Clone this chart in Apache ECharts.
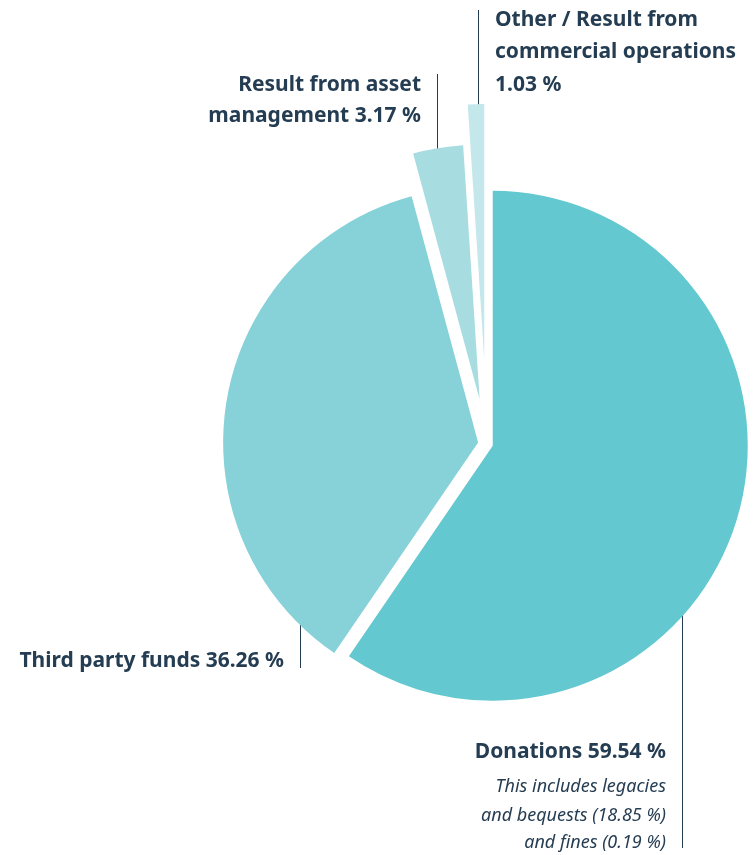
<!DOCTYPE html>
<html><head><meta charset="utf-8">
<script src="https://cdn.jsdelivr.net/npm/echarts@6/dist/echarts.min.js"></script>
<style>html,body{margin:0;padding:0;background:#fff}#c{width:755px;height:855px}</style>
</head><body><div id="c"></div>
<script>
const categories = ['Donations', 'Third party funds', 'Result from asset management', 'Other / Result from commercial operations'];
const values = [59.54, 36.26, 3.17, 1.03];
const colors = ['#63c8cf', '#86d2d8', '#a7dce1', '#c3e7ea'];
const offsets = [6, 9, 45, 85];
const centerTitle = 'Income';
const donationNotes = ['This includes legacies', 'and bequests (18.85 %)', 'and fines (0.19 %)'];

const TXT = '#253d52';
const FONT = '"Noto Sans", sans-serif';
const fmt = v => v.toFixed(2) + ' %';

const series = categories.map((cat, i) => ({
  type: 'pie',
  center: [487, 444],
  radius: [0, 255],
  startAngle: 90,
  clockwise: true,
  selectedMode: 'multiple',
  selectedOffset: offsets[i],
  silent: true,
  animation: false,
  label: { show: false },
  labelLine: { show: false },
  emphasis: { disabled: true },
  data: categories.map((c, j) => ({
    name: c,
    value: values[j],
    selected: j === i,
    itemStyle: { color: j === i ? colors[j] : 'rgba(0,0,0,0)' },
    select: { itemStyle: { color: colors[j] } }
  }))
}));

function t(x, y, text, align, opts) {
  return {
    type: 'text', x: x, y: y,
    style: Object.assign({ text: text, fill: TXT, font: 'bold 21px ' + FONT, align: align, verticalAlign: 'middle' }, opts || {})
  };
}
function ln(x, y1, y2) {
  return { type: 'line', shape: { x1: x, y1: y1, x2: x, y2: y2 }, style: { stroke: TXT, lineWidth: 1 } };
}

const graphics = [
  t(562, 456, centerTitle, 'center', { font: 'bold 27px ' + FONT }),
  // Other
  ln(478.5, 10, 117),
  t(495, 20, 'Other / Result from', 'left'),
  t(495, 52, 'commercial operations', 'left'),
  t(495, 85, fmt(values[3]), 'left'),
  // Asset
  ln(437.5, 74, 160),
  t(421, 85, 'Result from asset', 'right'),
  t(421, 116, 'management ' + fmt(values[2]), 'right'),
  // Third party
  ln(300.5, 607, 668),
  t(284, 661, categories[1] + ' ' + fmt(values[1]), 'right'),
  // Donations
  ln(682.5, 598, 848),
  t(666, 752, categories[0] + ' ' + fmt(values[0]), 'right'),
  t(666, 787, donationNotes[0], 'right', { font: 'italic 18px ' + FONT }),
  t(666, 816, donationNotes[1], 'right', { font: 'italic 18px ' + FONT }),
  t(666, 843, donationNotes[2], 'right', { font: 'italic 18px ' + FONT })
];

const chart = echarts.init(document.getElementById('c'), null, { renderer: 'canvas' });
chart.setOption({
  animation: false,
  series: series,
  graphic: graphics
});
</script></body></html>
